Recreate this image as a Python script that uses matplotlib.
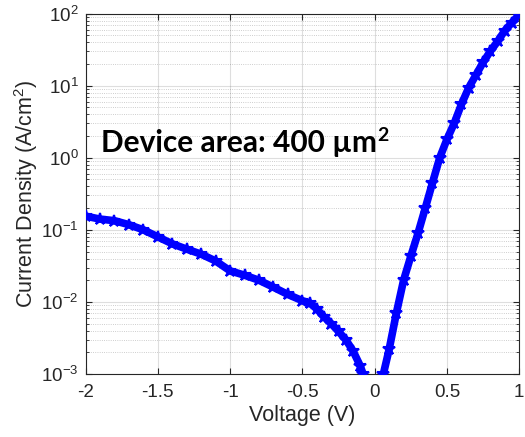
import matplotlib
matplotlib.use("Agg")
import matplotlib.pyplot as plt
from matplotlib.ticker import LogLocator, FixedLocator, NullFormatter

plt.rcParams['font.family'] = ['Liberation Sans', 'DejaVu Sans']
plt.rcParams['mathtext.fontset'] = 'custom'
plt.rcParams['mathtext.rm'] = 'Liberation Sans'
plt.rcParams['mathtext.default'] = 'regular'
plt.rcParams['axes.unicode_minus'] = False

# reverse-bias branch
v_rev = [-2.00, -1.90, -1.80, -1.70, -1.60, -1.50, -1.40, -1.30, -1.20, -1.10,
         -1.00, -0.90, -0.80, -0.70, -0.60, -0.50, -0.45, -0.40, -0.35, -0.30,
         -0.25, -0.20, -0.15, -0.10, -0.08]
j_rev = [0.155, 0.141, 0.134, 0.118, 0.100, 0.080, 0.064, 0.054, 0.046, 0.037,
         0.027, 0.0235, 0.020, 0.016, 0.0127, 0.0104, 0.0097, 0.0080, 0.0062, 0.0050,
         0.0039, 0.0030, 0.0021, 0.0013, 0.0010]

# forward-bias branch
v_fwd = [0.06, 0.10, 0.15, 0.20, 0.25, 0.30, 0.35, 0.40, 0.45, 0.50,
         0.55, 0.60, 0.65, 0.70, 0.75, 0.80, 0.85, 0.90, 0.95, 1.00]
j_fwd = [0.0010, 0.0022, 0.007, 0.020, 0.043, 0.090, 0.20, 0.45, 1.0, 1.8,
         3.0, 5.5, 9.3, 14, 21, 30, 41, 58, 75, 97]

x_ticks = [-2, -1.5, -1, -0.5, 0, 0.5, 1]
x_ticklabels = ['-2', '-1.5', '-1', '-0.5', '0', '0.5', '1']

fig = plt.figure(figsize=(5.25, 4.37), dpi=100)
ax = fig.add_axes([0.163, 0.144, 0.826, 0.825])

blue = '#0000ff'
for v, j in [(v_rev, j_rev), (v_fwd, j_fwd)]:
    ax.plot(v, j, color=blue, linewidth=5.5, solid_capstyle='butt', zorder=3)
    ax.plot(v, j, linestyle='none', marker='*', markersize=9, color=blue,
            markeredgewidth=1.5, zorder=4)

ax.set_yscale('log')
ax.set_xlim(-2, 1)
ax.set_ylim(1e-3, 1e2)
ax.xaxis.set_major_locator(FixedLocator(x_ticks))
ax.set_xticklabels(x_ticklabels)
ax.yaxis.set_major_locator(LogLocator(base=10, numticks=10))
ax.yaxis.set_minor_locator(LogLocator(base=10, subs=range(2, 10), numticks=20))
ax.yaxis.set_minor_formatter(NullFormatter())

ax.grid(True, which='major', color='#262626', alpha=0.15, linewidth=0.8)
ax.grid(True, which='minor', axis='y', color='#262626', alpha=0.3,
        linewidth=0.6, linestyle=':')
ax.set_axisbelow(True)

ax.tick_params(which='both', direction='in', top=True, right=True,
               colors='#262626', labelsize=13.5)
ax.tick_params(axis='x', which='major', pad=7)
ax.tick_params(axis='y', which='major', pad=5)
ax.tick_params(which='major', length=4, width=0.8)
ax.tick_params(which='minor', length=2.5, width=0.6)
for s in ax.spines.values():
    s.set_color('#262626')
    s.set_linewidth(0.8)

ax.set_xlabel('Voltage (V)', fontsize=15.5, color='#262626', labelpad=3)
ax.set_ylabel('Current Density (A/cm$^2$)', fontsize=15.5, color='#262626', labelpad=1)

note = ax.text(0.035, 0.617, 'Device area: 400 \u00b5m', transform=ax.transAxes,
               fontsize=21.5, fontweight='bold', family=['Lato', 'DejaVu Sans'],
               color='black', va='baseline', ha='left', zorder=5)
ax.annotate('2', xy=(1, 0), xycoords=note, xytext=(0.5, 11.5), textcoords='offset points',
            fontsize=14, fontweight='bold', family=['Lato', 'DejaVu Sans'],
            color='black', va='baseline', ha='left', zorder=5)

fig.savefig('out.png', dpi=100)
